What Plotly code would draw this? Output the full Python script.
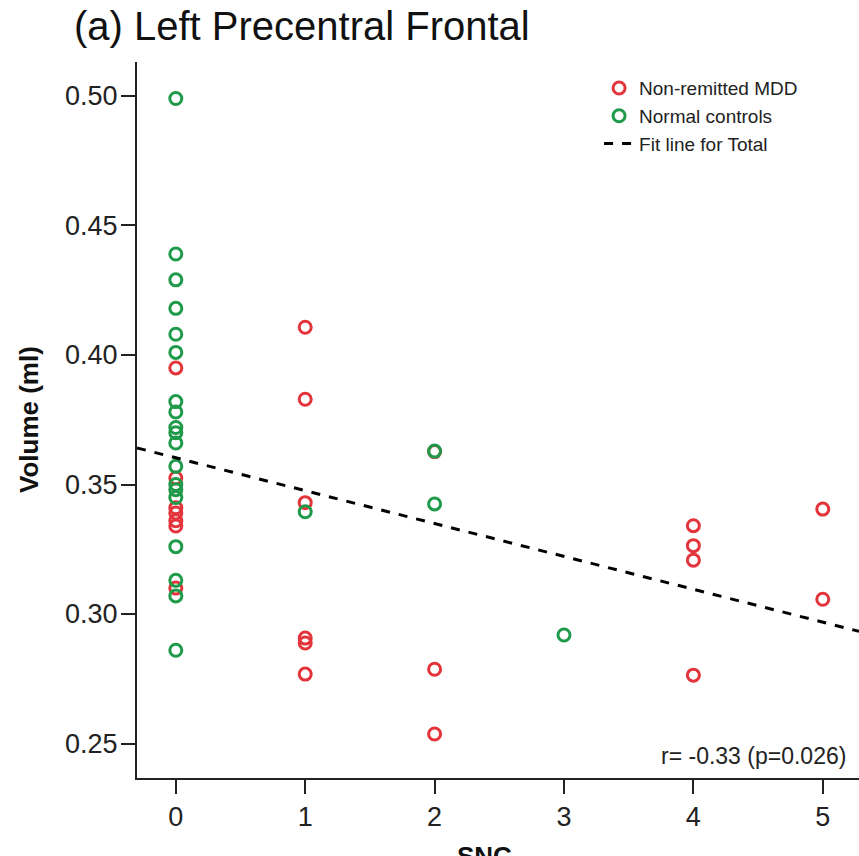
import numpy as np
import plotly.graph_objects as go

# ---- data ----
mdd_x = [0, 0, 0, 0, 0, 0, 0,
         1, 1, 1, 1, 1, 1,
         2, 2, 2,
         4, 4, 4, 4,
         5, 5]
mdd_y = [0.395, 0.3525, 0.341, 0.339, 0.336, 0.334, 0.310,
         0.4107, 0.3829, 0.3430, 0.2907, 0.2888, 0.2768,
         0.3627, 0.2787, 0.2537,
         0.3341, 0.3264, 0.3208, 0.2764,
         0.3405, 0.3057]

nc_x = [0] * 19 + [1, 2, 2, 3]
nc_y = [0.499, 0.439, 0.429, 0.418, 0.408, 0.401, 0.382, 0.378, 0.372, 0.370,
        0.366, 0.357, 0.350, 0.348, 0.345, 0.326, 0.313, 0.307, 0.286,
        0.3395, 0.3629, 0.3425, 0.2919]

x_ticks = [0, 1, 2, 3, 4, 5]
y_ticks = [0.25, 0.30, 0.35, 0.40, 0.45, 0.50]
x_range = [-0.30, 5.28]
y_range = [0.2367, 0.5131]

title_text = "(a) Left Precentral Frontal"
stat_text = "r= -0.33 (p=0.026)"

RED = "#e2343a"
GREEN = "#1f9a4a"
FONT = "Liberation Sans, Arial, sans-serif"

# fit line for total sample
all_x = np.array(mdd_x + nc_x, dtype=float)
all_y = np.array(mdd_y + nc_y, dtype=float)
slope, intercept = np.polyfit(all_x, all_y, 1)
fx = np.array(x_range)
fy = intercept + slope * fx

fig = go.Figure()
fig.add_trace(go.Scatter(
    x=mdd_x, y=mdd_y, mode="markers", name="Non-remitted MDD",
    marker=dict(symbol="circle-open", size=12, color=RED, line=dict(width=3, color=RED)),
))
fig.add_trace(go.Scatter(
    x=nc_x, y=nc_y, mode="markers", name="Normal controls",
    marker=dict(symbol="circle-open", size=12, color=GREEN, line=dict(width=3, color=GREEN)),
))
fig.add_trace(go.Scatter(
    x=fx, y=fy, mode="lines", name="Fit line for Total",
    line=dict(color="black", width=3, dash="dash"),
))

fig.update_layout(
    width=859, height=856,
    margin=dict(l=137, r=0, t=62, b=78),
    paper_bgcolor="white", plot_bgcolor="white",
    font=dict(family=FONT, color="#222222"),
    showlegend=True,
    legend=dict(x=0.64, y=0.99, xanchor="left", yanchor="top",
                font=dict(size=19, family=FONT, color="#222222"),
                bgcolor="rgba(0,0,0,0)", itemwidth=30, tracegroupgap=0),
    xaxis=dict(range=x_range, tickvals=x_ticks, showgrid=False, zeroline=False,
               showline=True, linecolor="#222222", linewidth=2,
               ticks="outside", ticklen=14, tickwidth=2, tickcolor="#222222",
               tickfont=dict(size=27, family=FONT, color="#222222")),
    yaxis=dict(range=y_range, tickvals=y_ticks, tickformat=".2f", showgrid=False, zeroline=False,
               showline=True, linecolor="#222222", linewidth=2,
               ticks="outside", ticklen=14, tickwidth=2, tickcolor="#222222",
               ticklabelstandoff=-2,
               tickfont=dict(size=27, family=FONT, color="#222222")),
    annotations=[
        dict(text=title_text, xref="paper", yref="paper", x=-0.09, y=1.0, xanchor="left",
             yanchor="middle", yshift=36, showarrow=False,
             font=dict(size=40, family=FONT, color="#111111")),
        dict(text="<b>Volume (ml)</b>", xref="paper", yref="paper", x=0, y=0.5,
             xanchor="center", yanchor="middle", xshift=-108, textangle=-90, showarrow=False,
             font=dict(size=26, family=FONT, color="#111111")),
        dict(text="<b>SNC</b>", xref="paper", yref="paper", x=0.481, y=0,
             xanchor="center", yanchor="middle", yshift=-78, showarrow=False,
             font=dict(size=26, family=FONT, color="#111111")),
        dict(text=stat_text, xref="paper", yref="paper", x=0.985, y=0,
             xanchor="right", yanchor="bottom", yshift=7, showarrow=False,
             font=dict(size=23, family=FONT, color="#222222")),
    ],
)

fig.write_html("out.html", config={"displayModeBar": False},
               post_script="document.body.style.margin='0';")
